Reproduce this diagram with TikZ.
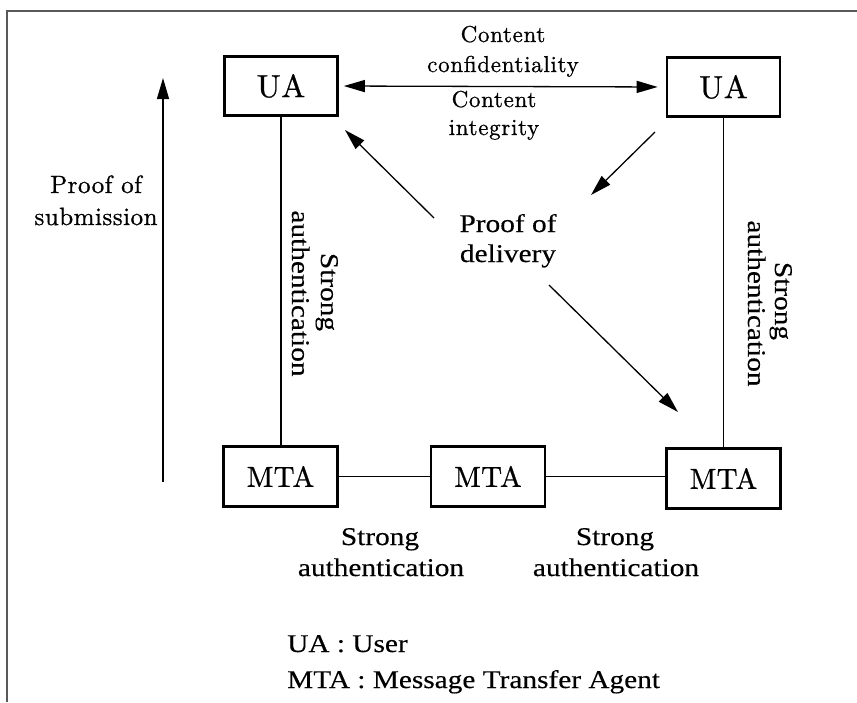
\documentclass[tikz,border=0pt]{standalone}
\usepackage{fontspec}
\newfontfamily\bookfont[FakeStretch=1.15, FakeBold=0.35]{Liberation Serif}
\newfontfamily\cmfont[Extension=.otf, FakeBold=0.8]{lmroman10-regular}
\usetikzlibrary{arrows.meta}

\begin{document}
\begin{tikzpicture}[x=1pt,y=-1pt,
  frameline/.style={draw=black!65, line width=1.2pt},
  box/.style={draw, line width=2.6pt, inner sep=0pt},
  uabox/.style={box, minimum width=113pt, minimum height=59pt,
    font=\cmfont\fontsize{32}{36}\selectfont\addfontfeatures{LetterSpace=2}},
  mtabox/.style={box, minimum width=114pt, minimum height=60pt,
    font=\cmfont\fontsize{29}{34}\selectfont\addfontfeatures{LetterSpace=1}},
  link/.style={line width=1.1pt},
  tip/.tip={Triangle[length=21pt,width=12pt]},
  arrowline/.style={line width=1.3pt, -tip},
  cmtext/.style={inner sep=0pt, anchor=base,
    font=\cmfont\fontsize{23}{28}\selectfont\addfontfeatures{LetterSpace=3}},
  subtext/.style={inner sep=0pt, anchor=base,
    font=\cmfont\fontsize{25}{30}\selectfont\addfontfeatures{LetterSpace=2}},
  booktext/.style={inner sep=0pt, anchor=base,
    font=\bookfont\fontsize{25.5}{30}\selectfont},
]
\useasboundingbox (0,0) rectangle (857,702);

% page frame
\draw[frameline] (857,11) -- (7,11) -- (7,702);

% agents
\node[uabox] (ua1) at (281,86) {UA};
\node[uabox] (ua2) at (723.5,87) {UA};
\node[mtabox] (m1) at (280.5,476.5) {MTA};
\node[mtabox] (m2) at (488,476.5) {MTA};
\node[mtabox] (m3) at (723.5,478.5) {MTA};

% links between agents
\draw[link] (ua1.south) -- (ua1.south |- m1.north);
\draw[link] (ua2.south) -- (ua2.south |- m3.north);
\draw[link] (m1.east) -- (m2.west);
\draw[link] (m2.east) -- (m2.east -| m3.west);

% end-to-end content protection
\draw[line width=1.3pt, tip-tip, shorten <=5pt, shorten >=8pt] (ua1.east) -- (ua2.west);
\node[cmtext] (cc1) at (503,42) {Content};
\node[cmtext] (cc2) at (503,72) {confidentiality};
\node[cmtext] (ci1) at (494,107) {Content};
\node[cmtext] (ci2) at (494,135) {integrity};

% proof of delivery
\node[booktext] (pd1) at (508,232) {Proof of};
\node[booktext] (pd2) at (508,262) {delivery};
\coordinate (pdA) at (434,218);
\coordinate (pdAend) at (345,130);
\coordinate (pdB) at (655,132);
\coordinate (pdBend) at (591,195);
\coordinate (pdC) at (549,285);
\coordinate (pdCend) at (678,412);
\draw[arrowline] (pdA) -- (pdAend);
\draw[arrowline] (pdB) -- (pdBend);
\draw[arrowline] (pdC) -- (pdCend);

% proof of submission
\coordinate (subA) at (163,482);
\coordinate (subB) at (163,78);
\draw[arrowline] (subA) -- (subB);
\node[subtext] (ps1) at (96,193) {Proof of};
\node[subtext] (ps2) at (96,225) {submission};

% strong authentication labels
\node[booktext, rotate=-90] (sl1) at (321,292) {Strong};
\node[booktext, rotate=-90] (sl2) at (292,293.5) {authentication};
\node[booktext, rotate=-90] (sr1) at (775,301) {Strong};
\node[booktext, rotate=-90] (sr2) at (748,303.5) {authentication};
\node[booktext] (sb1) at (380,545) {Strong};
\node[booktext] (sb2) at (381,576) {authentication};
\node[booktext] (sc1) at (615,545) {Strong};
\node[booktext] (sc2) at (616,576) {authentication};

% legend
\node[booktext, anchor=base west] (lg1) at (287,652) {UA : User};
\node[booktext, anchor=base west] (lg2) at (287,688) {MTA : Message Transfer Agent};
\end{tikzpicture}
\end{document}
